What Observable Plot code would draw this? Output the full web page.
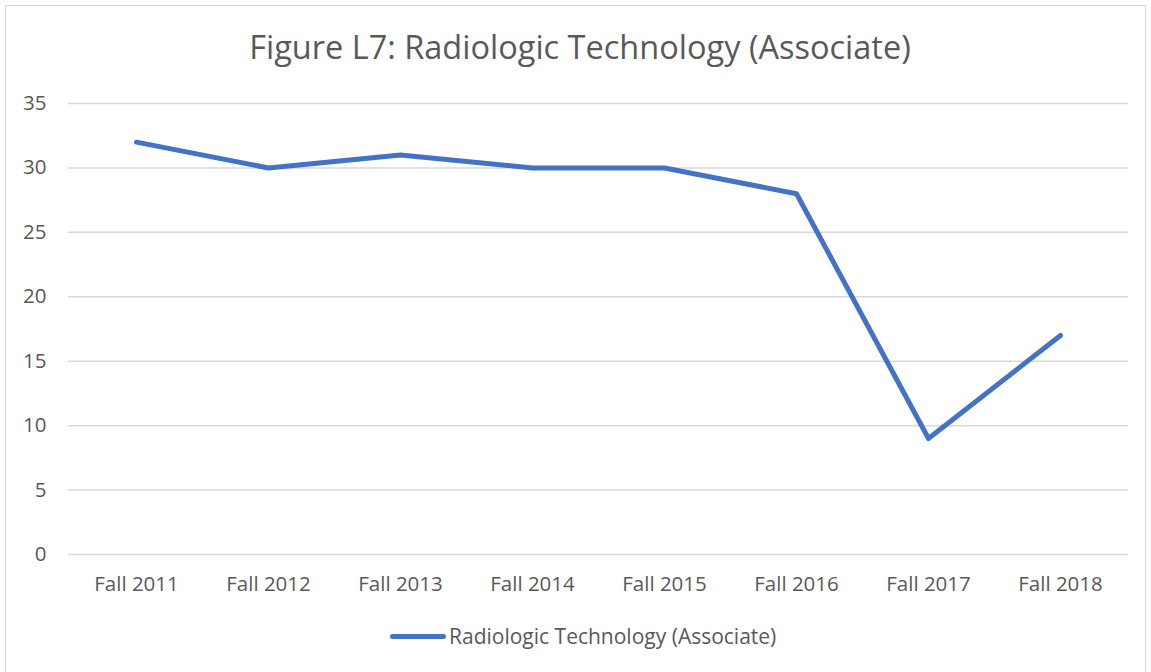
<!DOCTYPE html>
<html>
<head>
<meta charset="utf-8">
<script src="https://cdn.jsdelivr.net/npm/d3@7"></script>
<script src="https://cdn.jsdelivr.net/npm/@observablehq/plot@0.6"></script>
<style>
  html, body { margin: 0; padding: 0; background: #fff; }
  #frame { position: absolute; left: 5px; top: 5px; width: 1141px; height: 700px; border: 1px solid #d9d9d9; box-sizing: border-box; }
  #title { position: absolute; left: 0; top: 24px; width: 1160px; text-align: center; font-family: "Open Sans", sans-serif; font-size: 32.5px; color: #595959; }
  #chart { position: absolute; left: 0; top: 0; }
  #legend { position: absolute; left: 390px; top: 622px; display: flex; align-items: center; font-family: "Open Sans", sans-serif; font-size: 21px; color: #595959; }
  #legend .sw { width: 56px; height: 5px; background: #4472C4; border-radius: 3px; margin-right: 3px; }
</style>
</head>
<body>
<div id="frame"></div>
<div id="title">Figure L7: Radiologic Technology (Associate)</div>
<div id="chart"></div>
<div id="legend"><span class="sw"></span><span id="legtext"></span></div>
<script>
const categories = ["Fall 2011", "Fall 2012", "Fall 2013", "Fall 2014", "Fall 2015", "Fall 2016", "Fall 2017", "Fall 2018"];
const values = [32, 30, 31, 30, 30, 28, 9, 17];
const yTicks = [0, 5, 10, 15, 20, 25, 30, 35];
const seriesName = "Radiologic Technology (Associate)";

const data = categories.map((c, i) => ({category: c, value: values[i]}));

document.getElementById("legtext").textContent = seriesName;

const chart = Plot.plot({
  width: 1151,
  height: 600,
  marginLeft: 68,
  marginRight: 23,
  marginTop: 103,
  marginBottom: 46,
  style: {fontFamily: "Open Sans, sans-serif", fontSize: "20.5px", color: "#595959", background: "transparent"},
  x: {type: "point", domain: categories, padding: 0.5, label: null},
  y: {domain: [0, 35], ticks: yTicks, label: null},
  marks: [
    Plot.gridY(yTicks, {stroke: "#d9d9d9", strokeOpacity: 1, strokeWidth: 1.5}),
    Plot.axisY(yTicks, {tickSize: 0, tickPadding: 22, label: null, fill: "#595959"}),
    Plot.axisX({tickSize: 0, tickPadding: 22, label: null, fill: "#595959"}),
    Plot.line(data, {x: "category", y: "value", stroke: "#4472C4", strokeWidth: 5, strokeLinejoin: "round", strokeLinecap: "round"})
  ]
});
document.getElementById("chart").appendChild(chart);
</script>
</body>
</html>
